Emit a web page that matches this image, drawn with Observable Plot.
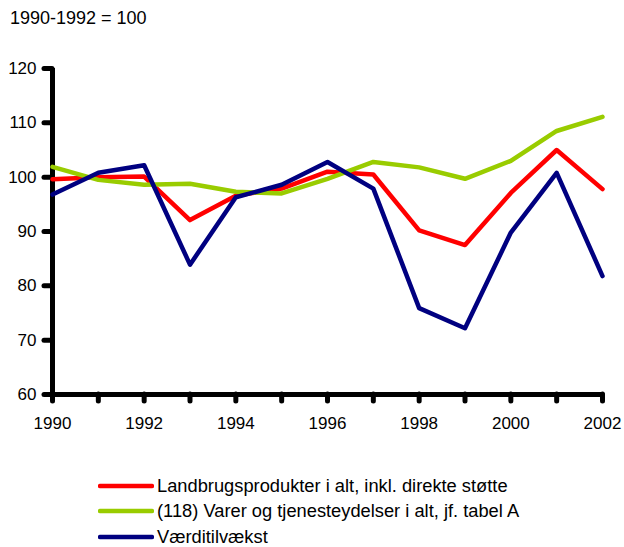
<!DOCTYPE html>
<html>
<head>
<meta charset="utf-8">
<script src="https://cdn.jsdelivr.net/npm/d3@7"></script>
<script src="https://cdn.jsdelivr.net/npm/@observablehq/plot@0.6"></script>
<style>
  html, body { margin: 0; padding: 0; background: #fff; }
  #wrap { position: relative; width: 624px; height: 547px; font-family: "Liberation Sans", Arial, sans-serif; color: #000; }
  #title { position: absolute; left: 10px; top: 7px; font-size: 18px; line-height: 22px; white-space: nowrap; }
  #chart { position: absolute; left: 0; top: 40px; }
  #legend { position: absolute; left: 98px; top: 473px; font-size: 18.3px; }
  .row { display: flex; align-items: center; height: 25.5px; white-space: nowrap; }
  .row svg { display: block; margin-right: 3px; }
</style>
</head>
<body>
<div id="wrap">
  <div id="title">1990-1992 = 100</div>
  <div id="chart"></div>
  <div id="legend"></div>
</div>
<script>
const years = [1990, 1991, 1992, 1993, 1994, 1995, 1996, 1997, 1998, 1999, 2000, 2001, 2002];
const landbrug = [99.6, 100.0, 100.1, 92.1, 96.6, 97.9, 101.0, 100.5, 90.2, 87.5, 97.1, 105.0, 97.8];
const varer = [101.9, 99.5, 98.6, 98.8, 97.3, 97.0, 99.7, 102.8, 101.8, 99.7, 103.0, 108.5, 111.1];
const vaerdi = [96.8, 100.8, 102.2, 83.9, 96.3, 98.6, 102.8, 97.9, 75.9, 72.2, 89.8, 100.8, 81.8];
const seriesNames = [
  "Landbrugsprodukter i alt, inkl. direkte støtte",
  "(118) Varer og tjenesteydelser i alt, jf. tabel A",
  "Værditilvækst"
];
const seriesColors = ["#FF0000", "#99CC00", "#000080"];
const yTicks = [60, 70, 80, 90, 100, 110, 120];

const seriesValues = [landbrug, varer, vaerdi];
const data = [];
seriesValues.forEach((vals, i) => {
  vals.forEach((v, j) => data.push({series: seriesNames[i], year: years[j], value: v}));
});

const chart = Plot.plot({
  width: 624,
  height: 400,
  marginTop: 28,
  marginBottom: 46,
  marginLeft: 52,
  marginRight: 22,
  style: {fontFamily: "Liberation Sans, Arial, sans-serif", fontSize: "17px", color: "#000", background: "#fff"},
  x: {type: "linear", domain: [1990, 2002]},
  y: {domain: [60, 120]},
  color: {domain: seriesNames, range: seriesColors},
  marks: [
    Plot.axisY({ticks: yTicks, tickSize: 8, tickPadding: 8, stroke: "#000", strokeWidth: 5, strokeLinecap: "round", label: null, fontSize: 17}),
    Plot.axisX({ticks: years, tickSize: 7, tickPadding: 15, stroke: "#000", strokeWidth: 5, strokeLinecap: "round", label: null, fontSize: 17,
      tickFormat: d => (d % 2 === 0 ? String(d) : "")}),
    Plot.ruleX([1990], {stroke: "#000", strokeWidth: 5}),
    Plot.ruleY([60], {stroke: "#000", strokeWidth: 5}),
    Plot.line(data, {x: "year", y: "value", z: "series", stroke: "series", strokeWidth: 4.5, strokeLinejoin: "round"})
  ]
});
document.getElementById("chart").appendChild(chart);

const legend = document.getElementById("legend");
seriesNames.forEach((name, i) => {
  const row = document.createElement("div");
  row.className = "row";
  row.innerHTML = `<svg width="56" height="10"><line x1="2" y1="5" x2="54" y2="5" stroke="${seriesColors[i]}" stroke-width="4.5" stroke-linecap="round"/></svg><span>${name}</span>`;
  legend.appendChild(row);
});
</script>
</body>
</html>
